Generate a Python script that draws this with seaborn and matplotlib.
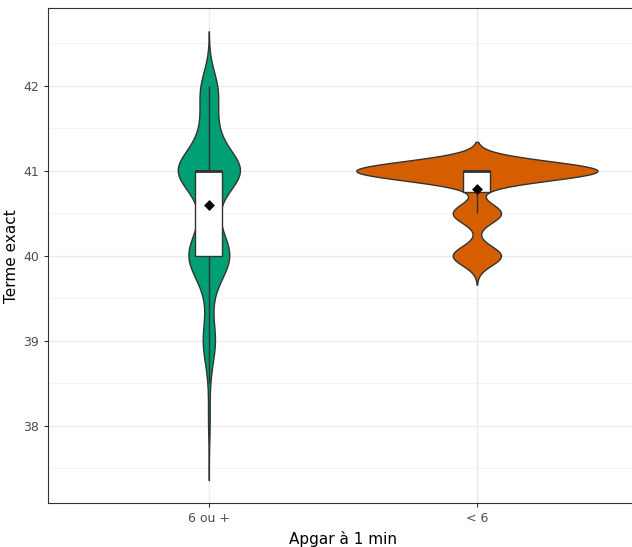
import numpy as np
import pandas as pd
import seaborn as sns
import matplotlib.pyplot as plt

# -------------------------
# Données
# -------------------------
groupes = ['6 ou +', '< 6']
couleurs = ['#009E73', '#D55E00']

terme_6plus = [38.0, 38.25, 38.5, 38.75, 39.0, 39.25, 39.5, 39.75, 40.0,
               40.25, 40.5, 40.75, 41.0, 41.25, 41.5, 41.75, 42.0]
effectif_6plus = [2, 1, 1, 5, 15, 5, 4, 19, 48,
                  19, 12, 18, 82, 22, 14, 12, 21]

terme_moins6 = [40.0, 40.5, 41.0]
effectif_moins6 = [1, 1, 5]

df = pd.DataFrame({
    'apgar': [groupes[0]] * sum(effectif_6plus) + [groupes[1]] * sum(effectif_moins6),
    'terme': np.concatenate([np.repeat(terme_6plus, effectif_6plus),
                             np.repeat(terme_moins6, effectif_moins6)]),
})


# largeur de bande "nrd0" comme dans R
def bw_nrd0(kde):
    x = kde.dataset.ravel()
    sd = np.std(x, ddof=1)
    iqr = np.subtract(*np.percentile(x, [75, 25]))
    bw = 0.9 * min(sd, iqr / 1.34) * len(x) ** -0.2
    return bw / sd


# -------------------------
# Graphique
# -------------------------
sns.set_style("white")
plt.rcParams['font.family'] = ['DejaVu Sans']

fig = plt.figure(figsize=(6.32, 5.47), dpi=100)
# le panneau dépasse un peu à droite (coupé dans l'original)
ax = fig.add_axes([0.076, 0.080, 0.933, 0.905])

sns.violinplot(data=df, x='apgar', y='terme', hue='apgar', order=groupes,
               palette=couleurs, saturation=1, legend=False, inner=None,
               cut=3, gridsize=512, bw_method=bw_nrd0, density_norm='area',
               common_norm=True, width=0.9, linewidth=1, linecolor='#333333',
               ax=ax)

sns.boxplot(data=df, x='apgar', y='terme', order=groupes, width=0.1,
            color='white', saturation=1, showfliers=False, showcaps=False,
            linewidth=1, linecolor='#333333',
            medianprops={'linewidth': 2, 'color': '#333333'}, ax=ax)

sns.pointplot(data=df, x='apgar', y='terme', order=groupes, estimator='mean',
              errorbar=None, color='black', marker='D', markersize=3.5,
              linestyle='none', ax=ax)

# style theme_bw
ax.set_xlim(-0.6, 1.6)
ax.set_ylim(37.085, 42.915)
ax.set_yticks([38, 39, 40, 41, 42])
ax.set_yticks(np.arange(37.5, 43, 1), minor=True)
ax.grid(True, which='major', color='#EBEBEB', linewidth=1)
ax.grid(True, which='minor', axis='y', color='#F2F2F2', linewidth=0.6)
ax.set_axisbelow(True)
for s in ax.spines.values():
    s.set_color('#333333')
    s.set_linewidth(0.8)
ax.tick_params(axis='both', which='major', length=3, color='#333333',
               labelcolor='#4D4D4D', labelsize=9, left=True, bottom=True)
ax.tick_params(axis='y', which='minor', length=0)

ax.set_xlabel('Apgar à 1 min', fontsize=11, color='black')
ax.set_ylabel('Terme exact', fontsize=11, color='black', labelpad=3)

plt.savefig('out.png', dpi=100)
